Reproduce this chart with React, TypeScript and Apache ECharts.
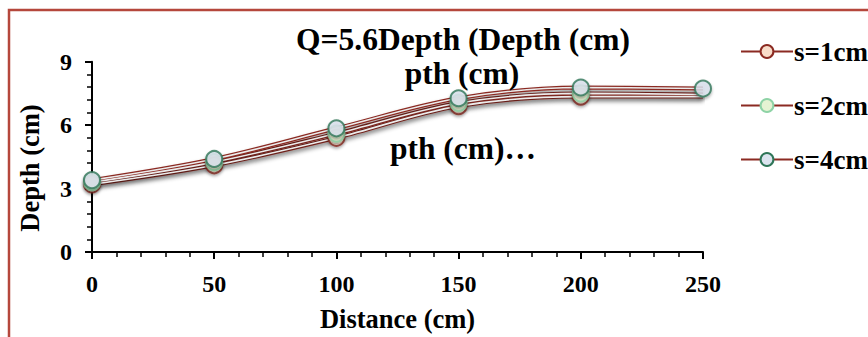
import React, { useEffect, useRef } from "react";
import * as echarts from "echarts";

const distances = [0, 50, 100, 150, 200, 250];
const s1Values = [3.2, 4.1, 5.4, 6.9, 7.35, 7.35];
const s2Values = [3.3, 4.25, 5.6, 7.05, 7.5, 7.45];
const s4Values = [3.4, 4.4, 5.85, 7.27, 7.78, 7.73];
const seriesNames = ["s=1cm", "s=2cm", "s=4cm"];
const markerShown = [
  [true, true, true, true, true, false],
  [true, true, true, true, true, false],
  [true, true, true, true, true, true],
];
const titleLines = ["Q=5.6Depth (Depth (cm)", "pth (cm)", "pth (cm)…"];
const yAxisTitle = "Depth (cm)";
const xAxisTitle = "Distance (cm)";

const FONT = '"Liberation Serif", "Times New Roman", serif';
const LINE = "#8B2A22";
const fills = ["#F8DCC9", "#E5F3D3", "#DCE4EF"];
const borders = ["#8B2A22", "#8ED3A6", "#2F7658"];

export default function App() {
  const ref = useRef<HTMLDivElement>(null);
  useEffect(() => {
    document.body.style.margin = "0";
    const chart = echarts.init(ref.current!, null, { renderer: "svg" });
    const all = [s1Values, s2Values, s4Values];
    const series: any[] = [];
    all.forEach((vals, i) => {
      const pts = distances.map((d, j) => [d, vals[j]]);
      series.push({
        type: "line",
        name: seriesNames[i],
        smooth: 0.35,
        symbol: "circle",
        symbolSize: 15,
        data: pts.map((p) => ({ value: p, symbol: "none" })),
        z: 2,
        lineStyle: {
          color: LINE,
          width: 4,
          shadowColor: "rgba(0,0,0,0.45)",
          shadowBlur: 4,
          shadowOffsetY: 3,
        },
        itemStyle: { color: fills[i], borderColor: borders[i], borderWidth: 2 },
      });
    });
    all.forEach((vals) => {
      series.push({
        type: "line",
        smooth: 0.35,
        showSymbol: false,
        silent: true,
        data: distances.map((d, j) => [d, vals[j]]),
        z: 3,
        lineStyle: { color: "#ececec", width: 1.6 },
      });
    });
    all.forEach((vals, i) => {
      series.push({
        type: "scatter",
        silent: true,
        symbol: "circle",
        symbolSize: 16,
        z: 4 + i,
        data: distances
          .map((d, j) => [d, vals[j]])
          .filter((_, j) => markerShown[i][j]),
        itemStyle: {
          color: fills[i],
          borderColor: borders[i],
          borderWidth: 2,
          shadowColor: "rgba(0,0,0,0.35)",
          shadowBlur: 3,
          shadowOffsetY: 2,
        },
      });
    });

    chart.setOption({
      animation: false,
      backgroundColor: "#fff",
      grid: { left: 92, right: 165, top: 61.7, bottom: 81 },
      legend: {
        data: seriesNames,
        orient: "vertical",
        left: 735,
        top: 33,
        itemGap: 27,
        itemWidth: 52,
        itemHeight: 16,
        textStyle: { fontFamily: FONT, fontWeight: "bold", fontSize: 27, color: "#000", padding: [0, 0, 0, -4] },
      },
      xAxis: {
        type: "value",
        min: 0,
        max: 250,
        interval: 50,
        name: xAxisTitle,
        nameLocation: "middle",
        nameGap: 53,
        nameTextStyle: { fontFamily: FONT, fontWeight: "bold", fontSize: 26.5, color: "#000" },
        axisLine: { lineStyle: { color: "#000", width: 2 } },
        axisTick: { show: true, length: 7, inside: false, lineStyle: { color: "#000", width: 2 } },
        minorTick: { show: true, splitNumber: 5, length: 5, lineStyle: { color: "#000", width: 1.5 } },
        axisLabel: { fontFamily: FONT, fontWeight: "bold", fontSize: 24, color: "#000", margin: 20 },
        splitLine: { show: false },
      },
      yAxis: {
        type: "value",
        min: 0,
        max: 9,
        interval: 3,
        axisLine: { show: true, lineStyle: { color: "#000", width: 2 } },
        axisTick: { show: true, length: 7, lineStyle: { color: "#000", width: 2 } },
        minorTick: { show: true, splitNumber: 5, length: 5, lineStyle: { color: "#000", width: 1.5 } },
        axisLabel: { fontFamily: FONT, fontWeight: "bold", fontSize: 24, color: "#000", margin: 20 },
        splitLine: { show: false },
      },
      graphic: [
        {
          type: "rect",
          shape: { x: 9, y: 10, width: 900, height: 400 },
          style: { fill: "none", stroke: "#B5473C", lineWidth: 2.5 },
          silent: true,
          z: 0,
        },
        {
          type: "text",
          x: 30,
          y: 168,
          rotation: Math.PI / 2,
          z: 10,
          style: {
            text: yAxisTitle,
            fontFamily: FONT,
            fontWeight: "bold",
            fontSize: 26.5,
            fill: "#000",
            textAlign: "center",
            textVerticalAlign: "middle",
          },
        },
        ...titleLines.map((t, i) => ({
          type: "text",
          x: [463, 462, 463][i],
          y: [39, 73, 148][i],
          z: 10,
          style: {
            text: t,
            fontFamily: FONT,
            fontWeight: "bold",
            fontSize: 31.5,
            fill: "#000",
            textAlign: "center",
            textVerticalAlign: "middle",
          },
        })),
      ],
      series,
    });
    return () => chart.dispose();
  }, []);
  return <div ref={ref} style={{ width: 868, height: 337 }} />;
}
